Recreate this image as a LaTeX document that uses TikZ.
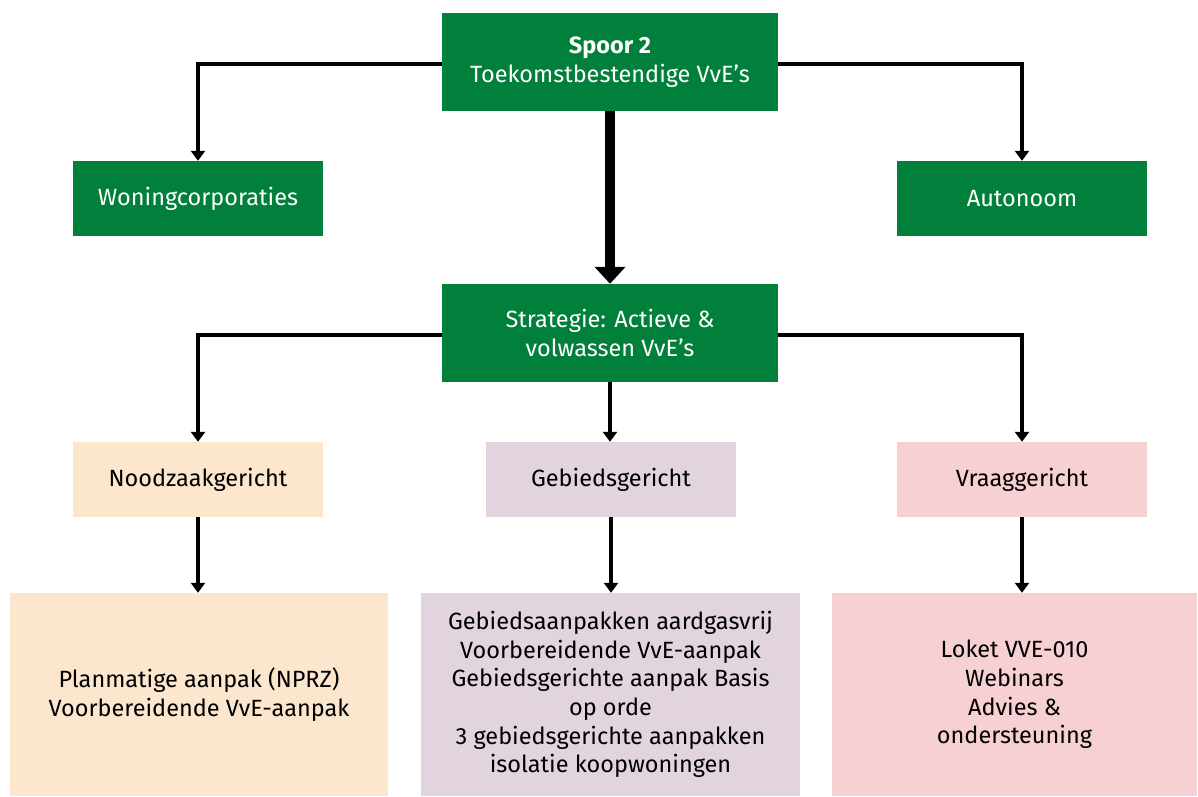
\documentclass[tikz,border=0pt]{standalone}
\usepackage{fontspec}
\setmainfont{Fira Sans}
\usetikzlibrary{arrows.meta}
\definecolor{rgroen}{HTML}{00803A}
\definecolor{rperzik}{HTML}{FCE6CE}
\definecolor{rlila}{HTML}{E1D4DE}
\definecolor{rroze}{HTML}{F7D0D3}
\tikzset{
    blok/.style={fill=#1, inner sep=0pt, align=center, font=\fontsize{23.5}{28.6}\selectfont},
    groen/.style={blok=rgroen, text=white},
    pijl/.style={line width=4pt, -{Triangle[width=14pt,length=10pt]}},
    dikpijl/.style={line width=10pt, -{Triangle[width=30pt,length=17pt]}},
}
\begin{document}
\begin{tikzpicture}[x=1pt, y=-1pt]
        %kader, 1198 x 796
        \useasboundingbox (0, 0) rectangle (1198, 796);
        %bovenste rij
        \node[groen, minimum width=336pt, minimum height=98pt] (spoor) at (610, 62)
            {\textbf{Spoor 2}\\Toekomstbestendige VvE’s};
        \node[groen, minimum width=250pt, minimum height=75pt] (woning) at (198, 198.5) {Woningcorporaties};
        \node[groen, minimum width=250pt, minimum height=75pt] (auto) at (1022, 198.5) {Autonoom};
        \node[groen, minimum width=336pt, minimum height=98pt] (strat) at (610, 333)
            {Strategie: Actieve \&\\volwassen VvE’s};
        %richtingen
        \node[blok=rperzik, minimum width=250pt, minimum height=75pt] (nood) at (198, 479.5) {Noodzaakgericht};
        \node[blok=rlila, minimum width=250pt, minimum height=75pt] (gebied) at (611, 479.5) {Gebiedsgericht};
        \node[blok=rroze, minimum width=250pt, minimum height=75pt] (vraag) at (1022, 479.5) {Vraaggericht};
        %onderste rij
        \node[blok=rperzik, minimum width=378pt, minimum height=203pt] (noodb) at (199, 694.5)
            {Planmatige aanpak (NPRZ)\\Voorbereidende VvE-aanpak};
        \node[blok=rlila, minimum width=379pt, minimum height=203pt] (gebiedb) at (610.5, 694.5)
            {Gebiedsaanpakken aardgasvrij\\Voorbereidende VvE-aanpak\\Gebiedsgerichte aanpak Basis\\op orde\\
             3 gebiedsgerichte aanpakken\\isolatie koopwoningen};
        \node[blok=rroze, minimum width=365pt, minimum height=203pt] (vraagb) at (1014.5, 694.5)
            {Loket VVE-010\\Webinars\\Advies \&\\ondersteuning};
        %verbindingen
        \draw[pijl] (spoor.west |- 0, 64) -| (woning.north);
        \draw[pijl] (spoor.east |- 0, 64) -| (auto.north);
        \draw[dikpijl] (spoor.south) -- (strat.north);
        \draw[pijl] (strat.west |- 0, 335) -| (nood.north);
        \draw[pijl] (strat.east |- 0, 335) -| (vraag.north);
        \draw[pijl] (strat.south) -- (gebied.north -| strat.south);
        \draw[pijl] (nood.south) -- (noodb.north -| nood.south);
        \draw[pijl] (gebied.south) -- (gebiedb.north -| gebied.south);
        \draw[pijl] (vraag.south) -- (vraagb.north -| vraag.south);
    \end{tikzpicture}
\end{document}
